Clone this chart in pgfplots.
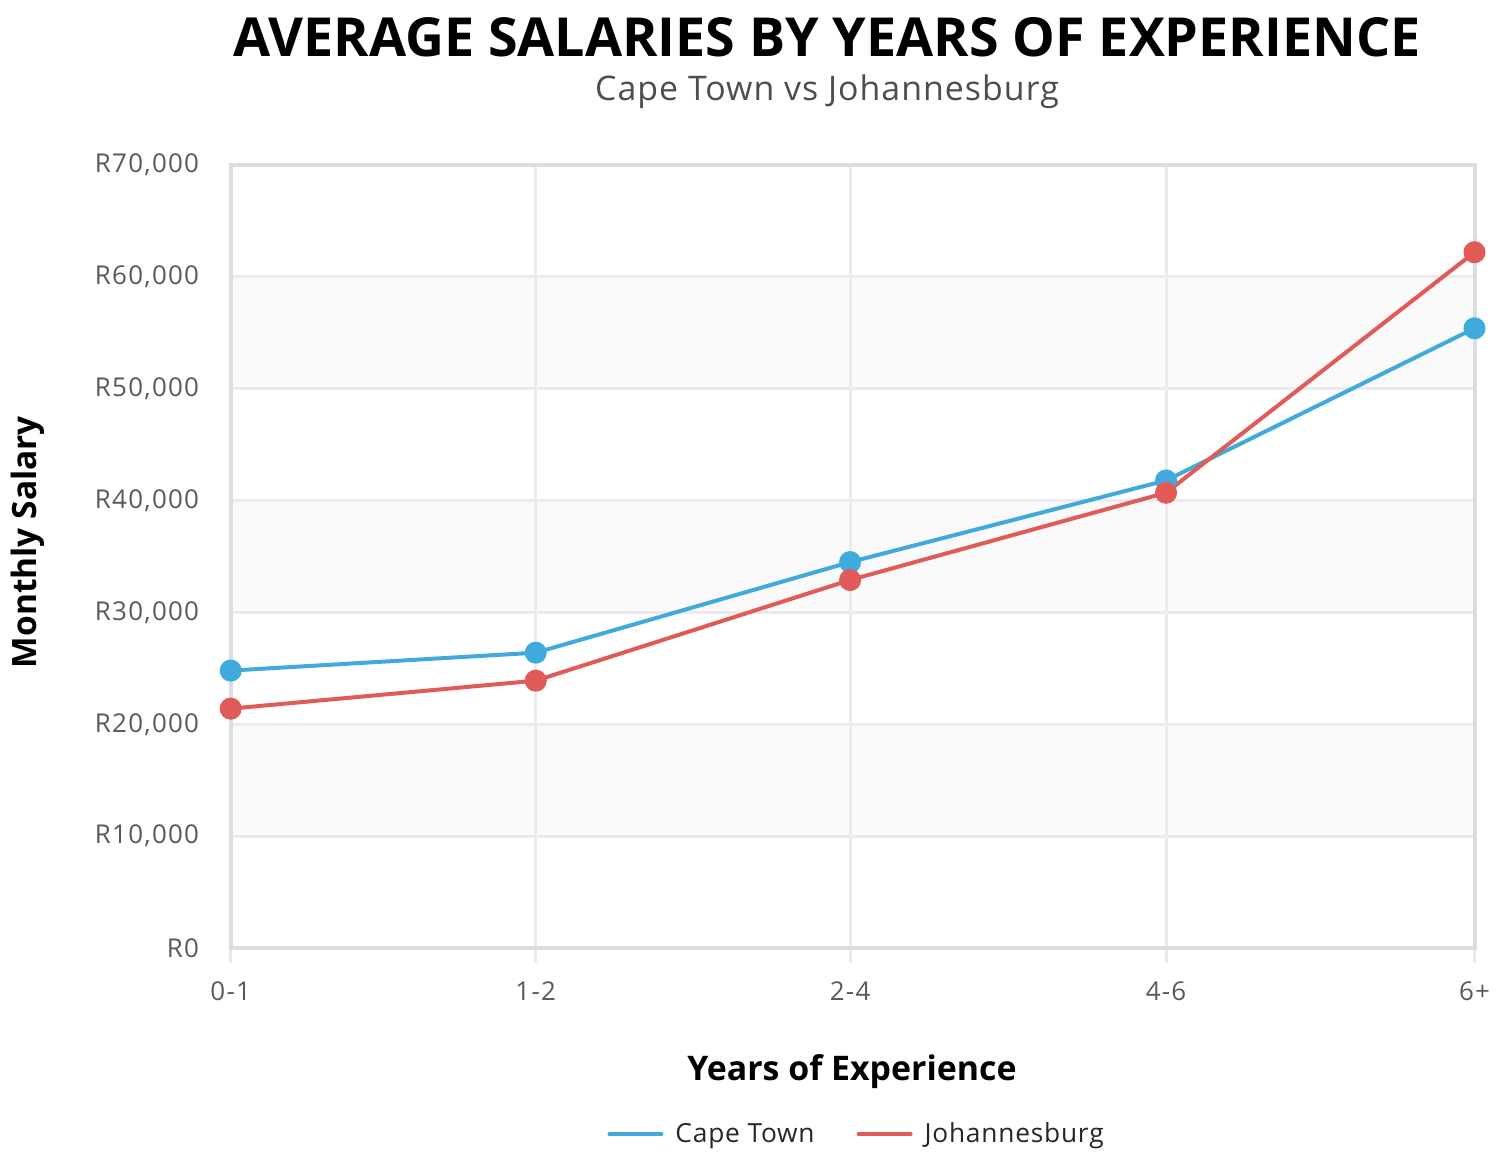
\documentclass[border=0pt]{standalone}
\usepackage{fontspec}
\setmainfont{Open Sans}
\usepackage{pgfplots}
\pgfplotsset{compat=1.18}

\definecolor{ctblue}{HTML}{41AADC}
\definecolor{jhbred}{HTML}{E05A58}
\definecolor{gridc}{HTML}{EBEBEE}
\definecolor{axisc}{HTML}{DCDDE2}
\definecolor{bandc}{HTML}{FAFAFB}
\definecolor{tickc}{HTML}{595959}
\definecolor{subc}{HTML}{4D4D4D}

\begin{document}
\begin{tikzpicture}
% titles
\node[anchor=base, font=\fontsize{27}{32}\selectfont\bfseries] at (413.5bp,559.5bp)
  {AVERAGE SALARIES BY YEARS OF EXPERIENCE};
\node[anchor=base, font=\fontsize{17}{20}\selectfont\addfontfeature{LetterSpace=3}, text=subc] at (413.5bp,537.5bp)
  {Cape Town vs Johannesburg};

\begin{axis}[
    set layers,
    at={(115.35bp,114bp)}, anchor=south west,
    scale only axis, width=621.9bp, height=391.5bp,
    xmin=0, xmax=4, ymin=0, ymax=70000,
    xtick={0,0.981,1.992,3.008,4},
    xticklabels={0-1,1-2,2-4,4-6,6+},
    ytick={0,10000,20000,30000,40000,50000,60000,70000},
    yticklabels={R0,{R10,000},{R20,000},{R30,000},{R40,000},{R50,000},{R60,000},{R70,000}},
    scaled y ticks=false,
    xtick pos=lower,
    grid=major,
    major grid style={color=gridc, line width=1.5bp},
    axis line style={color=axisc, line width=2bp},
    tick align=outside,
    major tick length=7.5bp,
    xtick style={color=gridc, line width=1.5bp},
    ytick style={draw=none},
    ticklabel style={font=\fontsize{13}{15}\selectfont\addfontfeature{LetterSpace=5}, text=tickc},
    xticklabel style={yshift=-6bp},
    yticklabel style={xshift=-4.8bp},
    legend columns=2,
    legend style={at={(0.504,-0.238)}, anchor=center, draw=none, fill=none,
        font=\fontsize{13.2}{16}\selectfont\addfontfeature{LetterSpace=3}, text=black!85,
        /tikz/every odd column/.append style={column sep=4bp},
        /tikz/every even column/.append style={column sep=19bp}},
    legend image code/.code={\draw[line width=2bp, line cap=round] (0bp,0bp) -- (26bp,0bp);},
]
% light background bands
\addplot[draw=none, fill=bandc, on layer=axis background, forget plot]
    coordinates {(0,10000) (4,10000) (4,20000) (0,20000)} -- cycle;
\addplot[draw=none, fill=bandc, on layer=axis background, forget plot]
    coordinates {(0,30000) (4,30000) (4,40000) (0,40000)} -- cycle;
\addplot[draw=none, fill=bandc, on layer=axis background, forget plot]
    coordinates {(0,50000) (4,50000) (4,60000) (0,60000)} -- cycle;

\addplot[color=ctblue, line width=2bp, mark=*, mark size=4.5bp,
    mark options={fill=ctblue, draw=ctblue}]
    coordinates {(0,24800) (0.981,26400) (1.992,34500) (3.008,41800) (4,55400)};
\addlegendentry{Cape Town}

\addplot[color=jhbred, line width=2bp, mark=*, mark size=4.5bp,
    mark options={fill=jhbred, draw=jhbred}]
    coordinates {(0,21400) (0.981,23900) (1.992,32900) (3.008,40700) (4,62200)};
\addlegendentry{Johannesburg}
\end{axis}

% axis titles
\node[anchor=base, font=\fontsize{17}{20}\selectfont\bfseries] at (426bp,47.5bp)
  {Years of Experience};
\node[anchor=base, rotate=90, font=\fontsize{16.8}{20}\selectfont\bfseries] at (18bp,317bp)
  {Monthly Salary};

\pgfresetboundingbox
\path[use as bounding box] (0,0) rectangle (750bp,588bp);
\end{tikzpicture}
\end{document}
